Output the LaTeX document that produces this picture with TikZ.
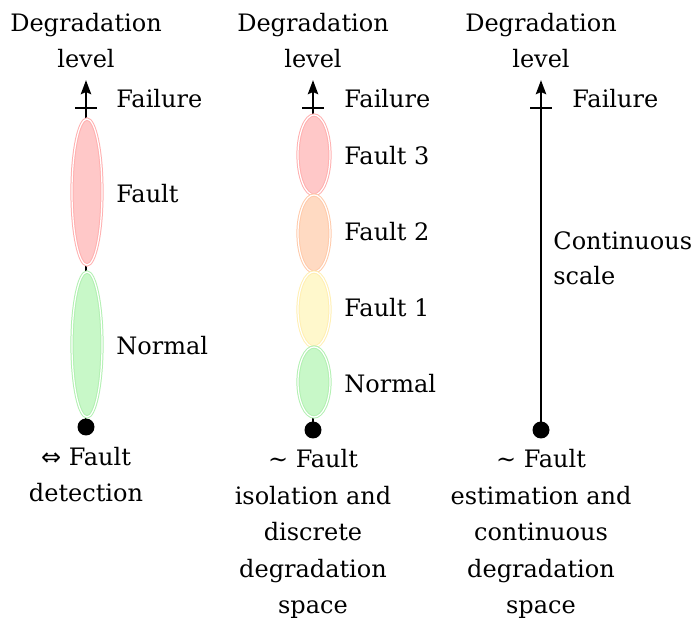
\documentclass[tikz,border=0pt]{standalone}
\usepackage{fontspec}
\setmainfont{DejaVu Serif}
\newfontfamily\symf{DejaVu Sans}
\usetikzlibrary{shapes.geometric,arrows.meta}
\definecolor{redf}{HTML}{FFC8C8}
\definecolor{redd}{HTML}{FFB0B0}
\definecolor{orgf}{HTML}{FFDAC2}
\definecolor{orgd}{HTML}{FFCAAA}
\definecolor{yelf}{HTML}{FFF8CC}
\definecolor{yeld}{HTML}{FFEFB2}
\definecolor{grnf}{HTML}{C8F8C8}
\definecolor{grnd}{HTML}{B2F0B2}
\begin{document}
\begin{tikzpicture}[x=0.5pt,y=-0.5pt,
  lbl/.style={font=\fontsize{12}{18.25}\selectfont, inner sep=0, anchor=base west},
  ttl/.style={font=\fontsize{12}{18.25}\selectfont, inner sep=0, align=center, anchor=base},
  axis/.style={line width=1.45pt},
  tip/.style={-{Stealth[length=7pt,width=5pt,inset=1pt]}},
  dot/.style={circle, fill=black, minimum size=8.5pt, inner sep=0},
  blob/.style 2 args={ellipse, inner sep=0, fill=#1, draw=#2, line width=0.5pt,
    double=white, double distance=0.6pt}
]
\useasboundingbox (0,0) rectangle (698,620);

% ---------- column 1 ----------
\node[ttl] (t1) at (86,68) {Degradation\\level};
\node[dot] (d1) at (86,427) {};
\coordinate (top1) at (86,80);
\coordinate (f1) at (86,108);
\draw[axis,tip] (d1.center) -- (top1);
\draw[axis] ([xshift=-5.5pt]f1) -- ([xshift=5.5pt]f1);
\node[blob={redf}{redd}, minimum width=15pt, minimum height=73pt] (e1a) at (87,192) {};
\node[blob={grnf}{grnd}, minimum width=15pt, minimum height=72.5pt] (e1b) at (87,344.5) {};
\node[lbl] (l1a) at (116,108) {Failure};
\node[lbl] (l1b) at (116,203) {Fault};
\node[lbl] (l1c) at (116,355) {Normal};
\node[ttl] (b1) at (86,502) {{\symf\fontsize{12}{18}\selectfont ⇔} Fault\\detection};

% ---------- column 2 ----------
\node[ttl] (t2) at (313,68) {Degradation\\level};
\node[dot] (d2) at (313,430) {};
\coordinate (top2) at (313,80);
\coordinate (f2) at (313,108);
\draw[axis,tip] (d2.center) -- (top2);
\draw[axis] ([xshift=-5.5pt]f2) -- ([xshift=5.5pt]f2);
\node[blob={redf}{redd}, minimum width=16pt, minimum height=40pt] (e2a) at (314,155) {};
\node[blob={orgf}{orgd}, minimum width=16pt, minimum height=38.5pt] (e2b) at (314,233.5) {};
\node[blob={yelf}{yeld}, minimum width=16pt, minimum height=37.5pt] (e2c) at (314,309.5) {};
\node[blob={grnf}{grnd}, minimum width=16pt, minimum height=35pt] (e2d) at (314,382) {};
\node[lbl] (l2a) at (344,108) {Failure};
\node[lbl] (l2b) at (344,165) {Fault 3};
\node[lbl] (l2c) at (344,241) {Fault 2};
\node[lbl] (l2d) at (344,317) {Fault 1};
\node[lbl] (l2e) at (344,393) {Normal};
\node[ttl] (b2) at (313,614) {\textasciitilde{} Fault\\isolation and\\discrete\\degradation\\space};

% ---------- column 3 ----------
\node[ttl] (t3) at (541,68) {Degradation\\level};
\node[dot] (d3) at (541,430) {};
\coordinate (top3) at (541,80);
\coordinate (f3) at (541,108);
\draw[axis,tip] (d3.center) -- (top3);
\draw[axis] ([xshift=-5.5pt]f3) -- ([xshift=5.5pt]f3);
\node[lbl] (l3a) at (572,108) {Failure};
\node[lbl] (l3b) at (553,250) {Continuous};
\node[lbl] (l3c) at (553,285) {scale};
\node[ttl] (b3) at (541,614) {\textasciitilde{} Fault\\estimation and\\continuous\\degradation\\space};
\end{tikzpicture}
\end{document}
